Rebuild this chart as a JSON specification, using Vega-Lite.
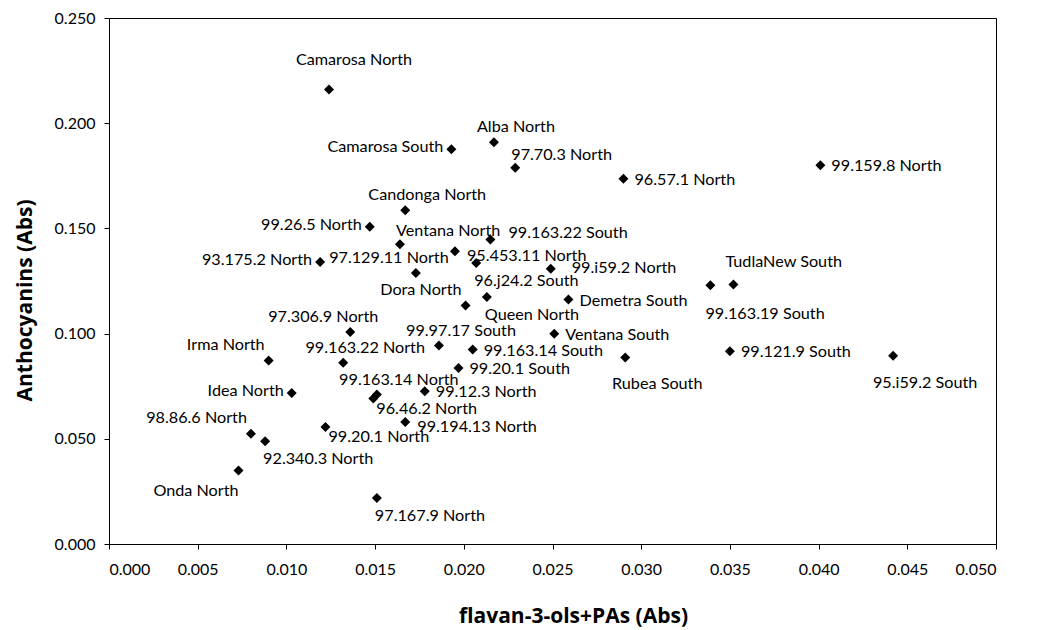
{
  "$schema": "https://vega.github.io/schema/vega-lite/v6.json",
  "width": 887,
  "height": 526,
  "autosize": "none",
  "padding": {"left": 109, "top": 18, "right": 42, "bottom": 86},
  "background": "white",
  "config": {
    "view": {"stroke": "black", "strokeWidth": 1},
    "font": "Lato",
    "text": {"font": "Lato", "fontSize": 16.2, "color": "black", "baseline": "middle"}
  },
  "data": {
    "values": [
      {"name": "Camarosa North", "x": 0.0124, "y": 0.2160, "pos": "top"},
      {"name": "Camarosa South", "x": 0.0193, "y": 0.1876, "pos": "left"},
      {"name": "Alba North", "x": 0.0217, "y": 0.1910, "pos": "above"},
      {"name": "97.70.3 North", "x": 0.0229, "y": 0.1788, "pos": "above-right"},
      {"name": "96.57.1 North", "x": 0.0290, "y": 0.1736, "pos": "right"},
      {"name": "99.159.8 North", "x": 0.0401, "y": 0.1800, "pos": "right"},
      {"name": "Candonga North", "x": 0.0167, "y": 0.1586, "pos": "above"},
      {"name": "99.26.5 North", "x": 0.0147, "y": 0.1508, "pos": "left"},
      {"name": "Ventana North", "x": 0.0164, "y": 0.1425, "pos": "above-right"},
      {"name": "99.163.22 South", "x": 0.0215, "y": 0.1447, "pos": "right-high"},
      {"name": "95.453.11 North", "x": 0.0195, "y": 0.1391, "pos": "right-low"},
      {"name": "93.175.2 North", "x": 0.0119, "y": 0.1340, "pos": "left"},
      {"name": "97.129.11 North", "x": 0.0173, "y": 0.1288, "pos": "above-west"},
      {"name": "96.j24.2 South", "x": 0.0207, "y": 0.1336, "pos": "below-right"},
      {"name": "99.i59.2 North", "x": 0.0249, "y": 0.1308, "pos": "right-far"},
      {"name": "TudlaNew South", "x": 0.0352, "y": 0.1233, "pos": "above-right-far"},
      {"name": "99.163.19 South", "x": 0.0339, "y": 0.1230, "pos": "below-right-far"},
      {"name": "Queen North", "x": 0.0213, "y": 0.1174, "pos": "below-right"},
      {"name": "Demetra South", "x": 0.0259, "y": 0.1162, "pos": "right"},
      {"name": "Dora North", "x": 0.0201, "y": 0.1133, "pos": "upper-left"},
      {"name": "97.306.9 North", "x": 0.0136, "y": 0.1008, "pos": "above-west"},
      {"name": "Ventana South", "x": 0.0251, "y": 0.0999, "pos": "right"},
      {"name": "99.97.17 South", "x": 0.0186, "y": 0.0943, "pos": "above"},
      {"name": "99.163.14 South", "x": 0.0205, "y": 0.0924, "pos": "right"},
      {"name": "99.163.22 North", "x": 0.0132, "y": 0.0861, "pos": "above"},
      {"name": "99.20.1 South", "x": 0.0197, "y": 0.0837, "pos": "right"},
      {"name": "Irma North", "x": 0.0090, "y": 0.0872, "pos": "upper-left"},
      {"name": "99.121.9 South", "x": 0.0350, "y": 0.0916, "pos": "right"},
      {"name": "95.i59.2 South", "x": 0.0442, "y": 0.0895, "pos": "below"},
      {"name": "Rubea South", "x": 0.0291, "y": 0.0887, "pos": "below"},
      {"name": "Idea North", "x": 0.0103, "y": 0.0718, "pos": "left"},
      {"name": "99.163.14 North", "x": 0.0151, "y": 0.0710, "pos": "above"},
      {"name": "96.46.2 North", "x": 0.0149, "y": 0.0691, "pos": "below-right-near"},
      {"name": "99.12.3 North", "x": 0.0178, "y": 0.0726, "pos": "right"},
      {"name": "99.194.13 North", "x": 0.0167, "y": 0.0580, "pos": "right-low"},
      {"name": "98.86.6 North", "x": 0.0080, "y": 0.0524, "pos": "upper-left"},
      {"name": "92.340.3 North", "x": 0.0088, "y": 0.0488, "pos": "below-right"},
      {"name": "99.20.1 North", "x": 0.0122, "y": 0.0556, "pos": "below-right-near"},
      {"name": "Onda North", "x": 0.0073, "y": 0.0349, "pos": "below-left"},
      {"name": "97.167.9 North", "x": 0.0151, "y": 0.0219, "pos": "below-right"}
    ]
  },
  "encoding": {
    "x": {
      "field": "x", "type": "quantitative",
      "scale": {"domain": [0, 0.05], "nice": false, "zero": false},
      "axis": {
        "title": "flavan-3-ols+PAs (Abs)",
        "values": [0, 0.005, 0.01, 0.015, 0.02, 0.025, 0.03, 0.035, 0.04, 0.045, 0.05],
        "format": ".3f", "grid": false,
        "domainColor": "black", "tickColor": "black", "tickSize": 5,
        "labelFont": "Lato", "labelFontSize": 16, "labelColor": "black", "labelPadding": 12,
        "titleFont": "Open Sans", "titleFontSize": 21, "titleFontWeight": "bold", "titleColor": "black",
        "titleX": 464, "titleY": 72, "titleBaseline": "middle", "titleAlign": "center"
      }
    },
    "y": {
      "field": "y", "type": "quantitative",
      "scale": {"domain": [0, 0.25], "nice": false, "zero": false},
      "axis": {
        "title": "Anthocyanins (Abs)",
        "values": [0, 0.05, 0.1, 0.15, 0.2, 0.25],
        "format": ".3f", "grid": false,
        "domainColor": "black", "tickColor": "black", "tickSize": 5,
        "labelFont": "Lato", "labelFontSize": 16, "labelColor": "black", "labelPadding": 9,
        "titleFont": "Open Sans", "titleFontSize": 21, "titleFontWeight": "bold", "titleColor": "black",
        "titleX": -84, "titleY": 282, "titleBaseline": "middle", "titleAlign": "center", "titleAngle": -90
      }
    }
  },
  "layer": [
    {"mark": {"type": "point", "shape": "diamond", "filled": true, "color": "black", "size": 100, "opacity": 1}},
    {"transform": [{"filter": "datum.pos == 'right'"}], "mark": {"type": "text", "align": "left", "dx": 11, "dy": 1}, "encoding": {"text": {"field": "name"}}},
    {"transform": [{"filter": "datum.pos == 'right-far'"}], "mark": {"type": "text", "align": "left", "dx": 21, "dy": -1}, "encoding": {"text": {"field": "name"}}},
    {"transform": [{"filter": "datum.pos == 'right-high'"}], "mark": {"type": "text", "align": "left", "dx": 18, "dy": -7}, "encoding": {"text": {"field": "name"}}},
    {"transform": [{"filter": "datum.pos == 'right-low'"}], "mark": {"type": "text", "align": "left", "dx": 12, "dy": 5}, "encoding": {"text": {"field": "name"}}},
    {"transform": [{"filter": "datum.pos == 'left'"}], "mark": {"type": "text", "align": "right", "dx": -8, "dy": -2}, "encoding": {"text": {"field": "name"}}},
    {"transform": [{"filter": "datum.pos == 'top'"}], "mark": {"type": "text", "align": "center", "dx": 25, "dy": -30}, "encoding": {"text": {"field": "name"}}},
    {"transform": [{"filter": "datum.pos == 'above'"}], "mark": {"type": "text", "align": "center", "dx": 22, "dy": -15}, "encoding": {"text": {"field": "name"}}},
    {"transform": [{"filter": "datum.pos == 'above-west'"}], "mark": {"type": "text", "align": "center", "dx": -27, "dy": -15}, "encoding": {"text": {"field": "name"}}},
    {"transform": [{"filter": "datum.pos == 'above-right'"}], "mark": {"type": "text", "align": "left", "dx": -4, "dy": -13}, "encoding": {"text": {"field": "name"}}},
    {"transform": [{"filter": "datum.pos == 'above-right-far'"}], "mark": {"type": "text", "align": "left", "dx": -8, "dy": -23}, "encoding": {"text": {"field": "name"}}},
    {"transform": [{"filter": "datum.pos == 'upper-left'"}], "mark": {"type": "text", "align": "right", "dx": -4, "dy": -16}, "encoding": {"text": {"field": "name"}}},
    {"transform": [{"filter": "datum.pos == 'below-right'"}], "mark": {"type": "text", "align": "left", "dx": -2, "dy": 18}, "encoding": {"text": {"field": "name"}}},
    {"transform": [{"filter": "datum.pos == 'below-right-far'"}], "mark": {"type": "text", "align": "left", "dx": -5, "dy": 29}, "encoding": {"text": {"field": "name"}}},
    {"transform": [{"filter": "datum.pos == 'below-right-near'"}], "mark": {"type": "text", "align": "left", "dx": 3, "dy": 10}, "encoding": {"text": {"field": "name"}}},
    {"transform": [{"filter": "datum.pos == 'below-left'"}], "mark": {"type": "text", "align": "right", "dx": 0, "dy": 20}, "encoding": {"text": {"field": "name"}}},
    {"transform": [{"filter": "datum.pos == 'below'"}], "mark": {"type": "text", "align": "center", "dx": 32, "dy": 27}, "encoding": {"text": {"field": "name"}}}
  ]
}
